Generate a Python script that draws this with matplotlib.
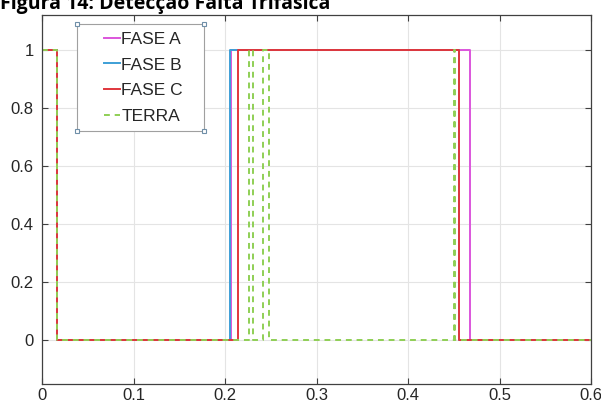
import numpy as np
import matplotlib.pyplot as plt
from matplotlib.legend_handler import HandlerLine2D

# Sinais de detecção (degraus) - instantes de transição e níveis
t_fase_a = [0.0, 0.0167, 0.2065, 0.4678, 0.6]
y_fase_a = [1, 0, 1, 0, 0]

t_fase_b = [0.0, 0.0167, 0.2060, 0.4555, 0.6]
y_fase_b = [1, 0, 1, 0, 0]

t_fase_c = [0.0, 0.0167, 0.2139, 0.4557, 0.6]
y_fase_c = [1, 0, 1, 0, 0]

t_terra = [0.0, 0.0167, 0.2266, 0.2309, 0.2419, 0.2484, 0.4500, 0.4510, 0.6]
y_terra = [1, 0, 1, 0, 1, 0, 1, 0, 0]

x_ticks = [0, 0.1, 0.2, 0.3, 0.4, 0.5, 0.6]
x_tick_labels = ['0', '0.1', '0.2', '0.3', '0.4', '0.5', '0.6']
y_ticks = [0, 0.2, 0.4, 0.6, 0.8, 1]
y_tick_labels = ['0', '0.2', '0.4', '0.6', '0.8', '1']

plt.rcParams['font.family'] = ['Liberation Sans', 'DejaVu Sans']


class ShortLine(HandlerLine2D):
    # desenha só um traço curto, encostado no texto
    def create_artists(self, legend, orig_handle, xdescent, ydescent,
                       width, height, fontsize, trans):
        arts = super().create_artists(legend, orig_handle, xdescent, ydescent,
                                      width, height, fontsize, trans)
        seg = 11.5
        yv = arts[0].get_ydata()[0]
        arts[0].set_data([width - xdescent - seg, width - xdescent], [yv, yv])
        return arts


fig = plt.figure(figsize=(6.01, 4.05), dpi=100)
ax = fig.add_axes([42 / 601, 21 / 405, 549 / 601, 369 / 405])

lw = 1.4
ax.plot(t_fase_a, y_fase_a, drawstyle='steps-post', color='#dc55dc', lw=lw, label='FASE A')
ax.plot(t_fase_b, y_fase_b, drawstyle='steps-post', color='#3d9fd6', lw=lw, label='FASE B')
ax.plot(t_fase_c, y_fase_c, drawstyle='steps-post', color='#e0363c', lw=lw, label='FASE C')
ax.plot(t_terra, y_terra, drawstyle='steps-post', color='#8fcf55', lw=lw,
        ls=(0, (3, 2.5)), label='TERRA')

ax.set_xlim(0, 0.6)
ax.set_ylim(-0.15, 1.12)
ax.set_xticks(x_ticks)
ax.set_xticklabels(x_tick_labels)
ax.set_yticks(y_ticks)
ax.set_yticklabels(y_tick_labels)
ax.tick_params(direction='in', length=4, width=0.8, color='#404040',
               labelsize=12, labelcolor='#262626', top=True, right=True)
ax.tick_params(axis='x', pad=3)
ax.tick_params(axis='y', pad=6)
ax.grid(True, color='#e4e4e4', lw=0.8)
ax.set_axisbelow(True)
for s in ax.spines.values():
    s.set_color('#404040')
    s.set_linewidth(0.9)

leg_w = 127 / 549
leg_top = (384 - 24) / 369
leg = ax.legend(loc='upper left', bbox_to_anchor=(35 / 549, leg_top - 0.3, leg_w, 0.3),
                mode='expand', fancybox=False, framealpha=1, edgecolor='#a0a0a0',
                handlelength=2.0, handletextpad=0.1, labelspacing=0.6,
                borderpad=0.45, borderaxespad=0, prop={'size': 12.5},
                handler_map={plt.Line2D: ShortLine()})
leg.get_frame().set_linewidth(0.8)
for txt in leg.get_texts():
    txt.set_color('#262626')

# pequenos quadrados nos cantos da caixa da legenda
fig.canvas.draw()
bb = leg.get_window_extent().transformed(fig.transFigure.inverted())
corners_x = [bb.x0, bb.x1, bb.x0, bb.x1]
corners_y = [bb.y0, bb.y0, bb.y1, bb.y1]
fig.add_artist(plt.Line2D(corners_x, corners_y, transform=fig.transFigure, ls='none',
                          marker='s', ms=3.5, mfc='white', mec='#6f8fa8', mew=0.8))

fig.text(0.0, 1 - 9 / 405, 'Figura 14: Detecção Falta Trifásica', fontsize=14,
         fontweight='bold', family=['Open Sans', 'DejaVu Sans'], va='baseline', ha='left')

fig.savefig('out.png', dpi=100)
